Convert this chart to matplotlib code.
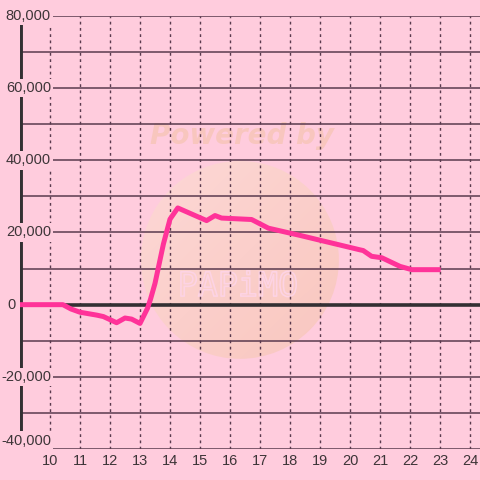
import matplotlib
matplotlib.use("Agg")
import matplotlib.pyplot as plt
import numpy as np
from matplotlib.colors import LinearSegmentedColormap
from matplotlib.patches import Ellipse
import matplotlib.patheffects as pe

hours = [9.0, 10.43, 10.7, 11.0, 11.56, 11.78, 12.22, 12.5, 12.72, 13.0, 13.25, 13.35,
         13.5, 13.78, 14.0, 14.26, 15.22, 15.5, 15.72, 16.72, 17.28, 18.33, 20.33,
         20.44, 20.72, 21.06, 21.67, 22.06, 23.02]
values = [0, 0, -1200, -2100, -2900, -3300, -5000, -3700, -4000, -5200, -1000, 1500,
          5900, 16800, 23700, 26800, 23300, 24700, 24000, 23600, 21200, 19200, 15200,
          15000, 13400, 13000, 10600, 9700, 9700]
x_ticks = list(range(10, 25))
y_ticks = list(range(-40000, 80001, 20000))
y_grid = list(range(-40000, 80001, 10000))

bg = "#FFCCDD"
gridc = "#5A3A4E"
textc = "#3D3538"

fig = plt.figure(figsize=(4.8, 4.8), dpi=100, facecolor=bg)
ax = fig.add_axes([20/480, (480-449)/480, 460/480, (449-16)/480])
ax.set_facecolor(bg)
ax.set_xlim(9.0, 24.333)
ax.set_ylim(-40000, 80000)
for s in ax.spines.values():
    s.set_visible(False)
ax.set_xticks([]); ax.set_yticks([])

# watermark
cx, cy = 16.33, 12400
rx, ry = 99/30, 99/3.61*1000
yy, xx = np.mgrid[0:1:200j, 0:1:200j]
g = (xx + yy)/2
cm = LinearSegmentedColormap.from_list("wm", ["#FDDAD6", "#F9C6BC"])
im = ax.imshow(g, cmap=cm, extent=[cx - rx, cx + rx, cy - ry, cy + ry],
               aspect='auto', zorder=1, alpha=0.9, origin='upper')
clip = Ellipse((cx, cy), 2*rx, 2*ry, transform=ax.transData)
im.set_clip_path(clip)
ax.text(16.4, 46800, "Powered by", fontsize=20, fontweight='bold', fontstyle='italic',
        color="#F8C6BE", ha='center', va='center', zorder=1, family="DejaVu Sans")
ax.text(16.27, 5000, "PAPiMO", fontsize=24, color="none", ha='center', va='center', zorder=1,
        family="DejaVu Sans Mono",
        path_effects=[pe.withStroke(linewidth=1.2, foreground="#FDD3E4")])

# grid
for v in y_grid:
    if v == 0:
        continue
    ax.axhline(v, color=gridc, lw=1.1, zorder=2)
for h in x_ticks:
    ax.axvline(h, color=gridc, lw=1.0, ls=(0, (2, 2.5)), zorder=2)
ax.axhline(0, color="#333033", lw=2.6, zorder=3)
ax.axvline(9.03, color="#333033", lw=2.8, zorder=3)

ax.plot(hours, values, color="#FF3399", lw=3.6, zorder=7, solid_joinstyle='round',
        solid_capstyle='butt', clip_on=False)

# labels
for v in y_ticks:
    off = 6 if v == -40000 else 0
    xpos = 8.87 if v == 0 else 10.03
    ax.annotate(f"{v:,}", xy=(xpos, v), xytext=(0, off), textcoords='offset points',
                ha='right', va='center', fontsize=10.5, color=textc, family="Liberation Sans",
                zorder=6, annotation_clip=False,
                bbox=dict(boxstyle='square,pad=0.15', fc=bg, ec='none'))
for h in x_ticks:
    ax.text(h, -43300, str(h), ha='center', va='center', fontsize=10.5, color=textc,
            family="Liberation Sans", zorder=6, clip_on=False)

fig.savefig("out.png", dpi=100, facecolor=bg)
